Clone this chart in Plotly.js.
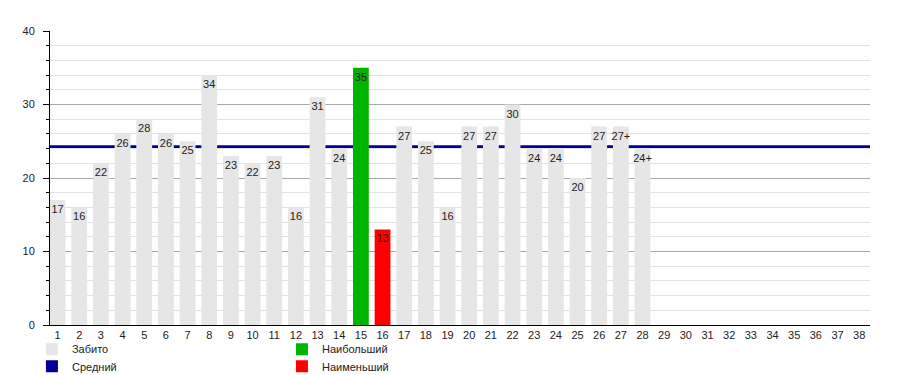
<!DOCTYPE html>
<html>
<head>
<meta charset="utf-8">
<script src="https://cdn.plot.ly/plotly-3.0.1.min.js"></script>
<style>html,body{margin:0;padding:0;background:#fff;}#chart{width:900px;height:375px;}</style>
</head>
<body>
<div id="chart"></div>
<script>
// categories (x axis)
const days = [1,2,3,4,5,6,7,8,9,10,11,12,13,14,15,16,17,18,19,20,21,22,23,24,25,26,27,28,29,30,31,32,33,34,35,36,37,38];
// goals per day (days 1..28)
const goals = [17,16,22,26,28,26,25,34,23,22,23,16,31,24,35,13,27,25,16,27,27,30,24,24,20,27,27,24];
// bar labels
const goalLabels = ["17","16","22","26","28","26","25","34","23","22","23","16","31","24","35","13","27","25","16","27","27","30","24","24","20","27","27+","24+"];
const seriesNames = ["Забито","Наибольший","Средний","Наименьший"];

const FONT = "Liberation Sans, Arial, sans-serif";
const TXT = "#222";
const colGray = "#e6e6e6", colGreen = "#00b400", colNavy = "#000099", colRed = "#ff0000";

const xs = goals.map((v,i)=>days[i]);
const maxV = Math.max(...goals), minV = Math.min(...goals);
const iMax = goals.indexOf(maxV), iMin = goals.indexOf(minV);
const avg = goals.reduce((a,b)=>a+b,0)/goals.length;

const grayY = goals.map((v,i)=> (i===iMax||i===iMin) ? null : v);
const grayT = goalLabels.map((t,i)=> (i===iMax||i===iMin) ? "" : t);
const maxY = goals.map((v,i)=> i===iMax ? v : null);
const maxT = goalLabels.map((t,i)=> i===iMax ? t : "");
const minY = goals.map((v,i)=> i===iMin ? v : null);
const minT = goalLabels.map((t,i)=> i===iMin ? t : "");

const barCommon = {
  type: "bar", x: xs, width: 0.73,
  textposition: "inside", insidetextanchor: "end", textangle: 0, constraintext: "none",
  textfont: {family: FONT, size: 11, color: TXT},
  hoverinfo: "skip", cliponaxis: false
};

const traces = [
  Object.assign({}, barCommon, {name: seriesNames[0], y: grayY, text: grayT, marker: {color: colGray}, legend: "legend"}),
  Object.assign({}, barCommon, {name: seriesNames[1], y: maxY, text: maxT, marker: {color: colGreen}, legend: "legend"}),
  {type: "bar", name: seriesNames[2], x: [null], y: [null], marker: {color: colNavy}, legend: "legend2", hoverinfo: "skip"},
  Object.assign({}, barCommon, {name: seriesNames[3], y: minY, text: minT, marker: {color: colRed}, legend: "legend2"})
];

const legendCommon = {
  orientation: "h", xanchor: "left", yanchor: "top", x: -0.022,
  entrywidth: 205, entrywidthmode: "pixels",
  font: {family: FONT, size: 11, color: TXT}, bgcolor: "rgba(0,0,0,0)",
  itemclick: false, itemdoubleclick: false
};

const layout = {
  width: 900, height: 375,
  margin: {l: 50, r: 30, t: 31, b: 50, autoexpand: false},
  paper_bgcolor: "#fff", plot_bgcolor: "#fff",
  barmode: "overlay",
  font: {family: FONT, size: 11, color: TXT},
  showlegend: true,
  legend: Object.assign({}, legendCommon, {y: -0.033}),
  legend2: Object.assign({}, legendCommon, {y: -0.091}),
  xaxis: {
    range: [0.65, 38.5], tickmode: "array", tickvals: days, ticktext: days.map(String),
    showgrid: false, zeroline: false, showline: true, linecolor: "#000", linewidth: 1,
    ticks: "", tickfont: {family: FONT, size: 11, color: TXT}, fixedrange: true
  },
  yaxis: {
    range: [0, 40], dtick: 10, tick0: 0,
    showgrid: true, gridcolor: "#a8a8a8", gridwidth: 1,
    zeroline: false, showline: true, linecolor: "#000", linewidth: 1,
    ticks: "outside", ticklen: 6, tickcolor: "#000", ticklabelstandoff: 6,
    tickfont: {family: FONT, size: 11, color: TXT},
    minor: {dtick: 2, showgrid: true, gridcolor: "#e2e2e2", gridwidth: 1, ticks: "outside", ticklen: 3, tickcolor: "#000"},
    fixedrange: true
  },
  shapes: [{
    type: "line", layer: "between", xref: "paper", x0: 0, x1: 1, yref: "y", y0: avg, y1: avg,
    line: {color: colNavy, width: 3}
  }]
};

Plotly.newPlot("chart", traces, layout, {staticPlot: true, displayModeBar: false});
</script>
</body>
</html>
